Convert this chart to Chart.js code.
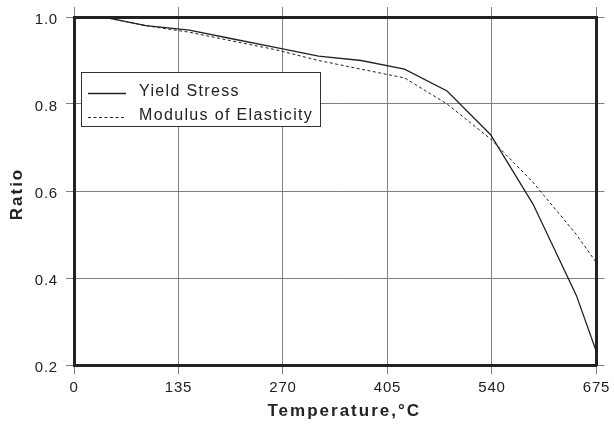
<!DOCTYPE html>
<html>
<head>
<meta charset="utf-8">
<script src="https://cdn.jsdelivr.net/npm/chart.js@4.4.0/dist/chart.umd.min.js"></script>
<style>
  body { margin: 0; background: #fff; }
</style>
</head>
<body>
<canvas id="chart" width="614" height="425"></canvas>
<script>
// data (temperatures are 100°F steps, in °C)
const temperature = [38, 93, 149, 204, 260, 316, 371, 427, 482, 538, 593, 649, 675];
const yieldStress = [1.0, 0.98, 0.97, 0.95, 0.93, 0.91, 0.90, 0.88, 0.83, 0.73, 0.57, 0.36, 0.23];
const modulus     = [1.0, 0.98, 0.965, 0.945, 0.925, 0.90, 0.88, 0.86, 0.80, 0.72, 0.62, 0.50, 0.435];
const xTicks = [0, 135, 270, 405, 540, 675];
const yTicks = [0.2, 0.4, 0.6, 0.8, 1.0];

const ink = '#222';
const gridColor = '#808080';
const family = '"Liberation Sans", Arial, Helvetica, sans-serif';

Chart.defaults.font.family = family;

function toPoints(xs, ys) {
  return xs.map((x, i) => ({ x: x, y: ys[i] }));
}

// frame text, titles and the boxed legend
const decor = {
  id: 'decor',
  beforeDraw(chart) {
    chart.ctx.letterSpacing = '0.8px';
  },
  afterDraw(chart) {
    const ctx = chart.ctx;
    const a = chart.chartArea;
    ctx.save();

    // legend box
    const bx = a.left + 7.5, by = a.top + 55.5, bw = 239, bh = 54;
    ctx.fillStyle = '#fff';
    ctx.fillRect(bx, by, bw, bh);
    ctx.strokeStyle = '#333';
    ctx.lineWidth = 1;
    ctx.strokeRect(bx, by, bw, bh);

    ctx.font = '16px ' + family;
    ctx.letterSpacing = '1.35px';
    ctx.textBaseline = 'middle';
    ctx.textAlign = 'left';
    chart.data.datasets.forEach((ds, i) => {
      const rowY = by + 19.5 + i * 24;
      ctx.beginPath();
      ctx.strokeStyle = ds.borderColor;
      ctx.lineWidth = ds.borderWidth;
      ctx.setLineDash(ds.borderDash || []);
      ctx.moveTo(bx + 6.5, rowY + 1.5);
      ctx.lineTo(bx + 44.5, rowY + 1.5);
      ctx.stroke();
      ctx.setLineDash([]);
      ctx.fillStyle = ink;
      ctx.fillText(ds.label, bx + 57.5, rowY);
    });

    // axis titles
    ctx.font = 'bold 17px ' + family;
    ctx.letterSpacing = '2px';
    ctx.textAlign = 'center';
    ctx.fillStyle = ink;
    ctx.fillText('Temperature,°C', (a.left + a.right) / 2 + 9, 411);

    ctx.translate(a.left - 57, (a.top + a.bottom) / 2 + 3);
    ctx.rotate(-Math.PI / 2);
    ctx.fillText('Ratio', 0, 0);
    ctx.restore();
  }
};

new Chart(document.getElementById('chart'), {
  type: 'line',
  data: {
    datasets: [{
      label: 'Yield Stress',
      data: toPoints(temperature, yieldStress),
      borderColor: ink,
      borderWidth: 1.3,
      pointRadius: 0,
      tension: 0,
      fill: false
    }, {
      label: 'Modulus of Elasticity',
      data: toPoints(temperature, modulus),
      borderColor: ink,
      borderWidth: 1,
      borderDash: [3, 2.5],
      pointRadius: 0,
      tension: 0,
      fill: false
    }]
  },
  options: {
    responsive: false,
    animation: false,
    devicePixelRatio: 1,
    layout: { padding: 0 },
    plugins: {
      legend: { display: false },
      tooltip: { enabled: false }
    },
    scales: {
      x: {
        type: 'linear',
        position: 'bottom',
        min: 0,
        max: 675,
        afterBuildTicks: s => { s.ticks = xTicks.map(v => ({ value: v })); },
        afterFit: s => { s.height = 60; },
        grid: { color: gridColor, lineWidth: 1, tickLength: 9 },
        border: { color: ink, width: 3 },
        ticks: { color: ink, font: { size: 15 }, padding: 5, maxRotation: 0, callback: v => String(v) }
      },
      x2: {
        type: 'linear',
        axis: 'x',
        position: 'top',
        min: 0,
        max: 675,
        afterBuildTicks: s => { s.ticks = xTicks.map(v => ({ value: v })); },
        afterFit: s => { s.height = 15; },
        grid: { color: gridColor, lineWidth: 1, tickLength: 10, drawOnChartArea: false },
        border: { color: ink, width: 3 },
        ticks: { display: false }
      },
      y: {
        type: 'linear',
        position: 'left',
        min: 0.2,
        max: 1.0,
        afterBuildTicks: s => { s.ticks = yTicks.map(v => ({ value: v })); },
        afterFit: s => { s.width = 74; },
        grid: { color: gridColor, lineWidth: 1, tickLength: 8 },
        border: { color: ink, width: 3 },
        ticks: { color: ink, font: { size: 15 }, padding: 8, labelOffset: 3, callback: v => v.toFixed(1) }
      },
      y2: {
        type: 'linear',
        axis: 'y',
        position: 'right',
        min: 0.2,
        max: 1.0,
        afterBuildTicks: s => { s.ticks = yTicks.map(v => ({ value: v })); },
        afterFit: s => { s.width = 15; },
        grid: { color: gridColor, lineWidth: 1, tickLength: 8, drawOnChartArea: false },
        border: { color: ink, width: 3 },
        ticks: { display: false }
      }
    }
  },
  plugins: [decor]
});
</script>
</body>
</html>
